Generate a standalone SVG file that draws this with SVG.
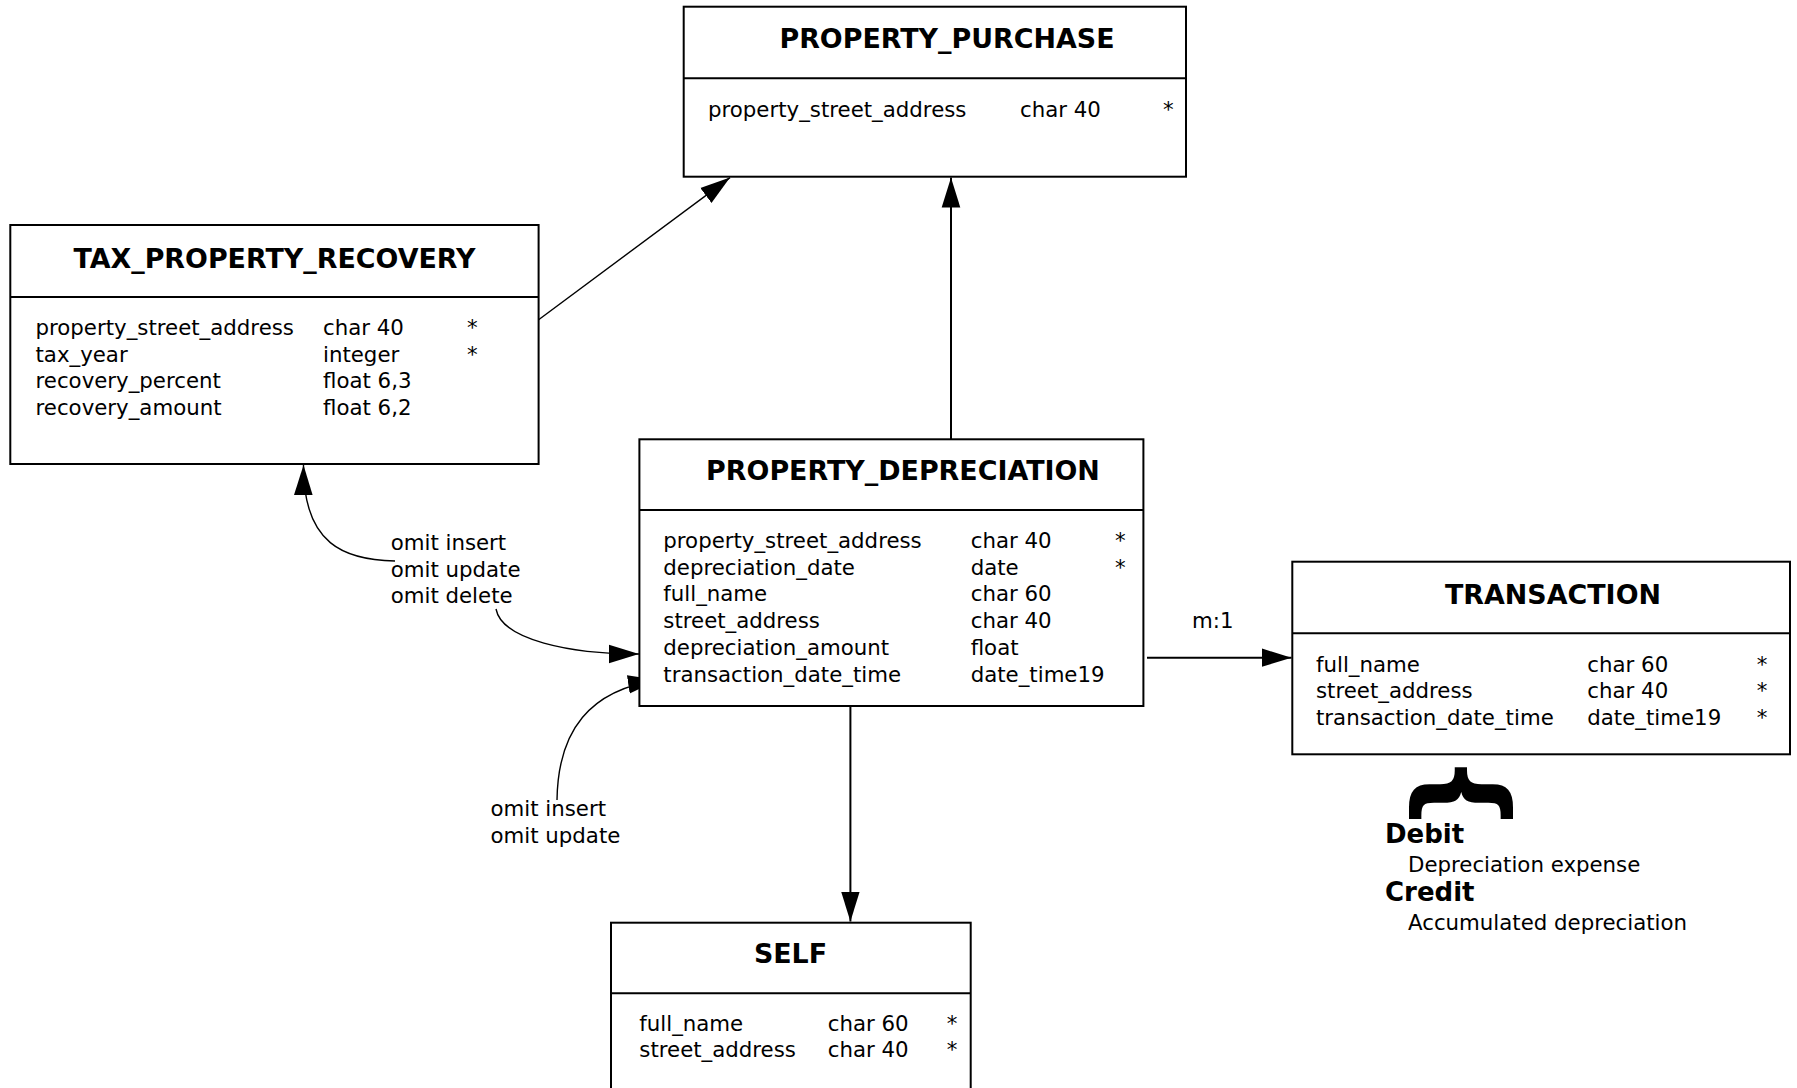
<svg xmlns="http://www.w3.org/2000/svg" width="1797" height="1088" viewBox="0 0 1797 1088">
<defs>
<style>
.box{fill:#fff;stroke:#000;stroke-width:2}
.div{stroke:#000;stroke-width:2}
.title{font-family:"DejaVu Sans",sans-serif;font-weight:bold;font-size:26.9px;text-anchor:middle;fill:#000}
.t{font-family:"DejaVu Sans",sans-serif;font-size:21.3px;fill:#000}
.b{font-family:"DejaVu Sans",sans-serif;font-weight:bold;font-size:26px;fill:#000}
.conn{fill:none;stroke:#000;stroke-width:2}
.thin{fill:none;stroke:#000;stroke-width:1.4}
</style>
<marker id="arr" markerUnits="userSpaceOnUse" markerWidth="30" markerHeight="20" viewBox="0 0 29 18" refX="29" refY="9" orient="auto">
<path d="M0,0 L29,9 L0,18 z" fill="#000"/>
</marker>
</defs>
<rect width="1797" height="1088" fill="#fff"/>

<g id="connectors">
<path class="thin" d="M538.6,319.7 L730,177.6" marker-end="url(#arr)"/>
<path class="conn" d="M951,439 L951,177.6" marker-end="url(#arr)"/>
<path class="conn" d="M1147,657.7 L1291.5,657.7" marker-end="url(#arr)"/>
<path class="conn" d="M850.4,706 L850.4,921.5" marker-end="url(#arr)"/>
<path class="thin" d="M395,561 C345,560 303,545 303.5,465" marker-end="url(#arr)"/>
<path class="thin" d="M496,609 C502,640 570,654 639,654" marker-end="url(#arr)"/>
<path class="thin" d="M557,800 C558,730 590,690 658,680" marker-end="url(#arr)"/>
<text class="t" x="1192" y="627.5">m:1</text>
<text class="t" x="390.7" y="550">omit insert</text>
<text class="t" x="390.7" y="576.5">omit update</text>
<text class="t" x="390.7" y="603">omit delete</text>
<text class="t" x="490.5" y="816">omit insert</text>
<text class="t" x="490.5" y="842.5">omit update</text>
</g>

<g id="PROPERTY_PURCHASE">
<rect class="box" x="683.7" y="6.7" width="502.3" height="170"/>
<line class="div" x1="683.7" y1="78.3" x2="1186" y2="78.3"/>
<text class="title" x="947" y="48">PROPERTY_PURCHASE</text>
<text class="t" x="708" y="117">property_street_address</text>
<text class="t" x="1020" y="117">char 40</text>
<text class="t" x="1163" y="117">*</text>
</g>

<g id="TAX_PROPERTY_RECOVERY">
<rect class="box" x="10.3" y="225" width="528.3" height="239"/>
<line class="div" x1="10.3" y1="297" x2="538.6" y2="297"/>
<text class="title" x="274.5" y="267.5">TAX_PROPERTY_RECOVERY</text>
<text class="t" x="35.5" y="335">property_street_address</text>
<text class="t" x="323" y="335">char 40</text>
<text class="t" x="467" y="335">*</text>
<text class="t" x="35.5" y="361.7">tax_year</text>
<text class="t" x="323" y="361.7">integer</text>
<text class="t" x="467" y="361.7">*</text>
<text class="t" x="35.5" y="388.4">recovery_percent</text>
<text class="t" x="323" y="388.4">float 6,3</text>
<text class="t" x="35.5" y="415">recovery_amount</text>
<text class="t" x="323" y="415">float 6,2</text>
</g>

<g id="PROPERTY_DEPRECIATION">
<rect class="box" x="639.4" y="439.3" width="504" height="266.7"/>
<line class="div" x1="639.4" y1="510" x2="1143.4" y2="510"/>
<text class="title" x="903" y="479.5">PROPERTY_DEPRECIATION</text>
<text class="t" x="663.3" y="548">property_street_address</text>
<text class="t" x="970.7" y="548">char 40</text>
<text class="t" x="1115" y="548">*</text>
<text class="t" x="663.3" y="574.7">depreciation_date</text>
<text class="t" x="970.7" y="574.7">date</text>
<text class="t" x="1115" y="574.7">*</text>
<text class="t" x="663.3" y="601.4">full_name</text>
<text class="t" x="970.7" y="601.4">char 60</text>
<text class="t" x="663.3" y="628.1">street_address</text>
<text class="t" x="970.7" y="628.1">char 40</text>
<text class="t" x="663.3" y="654.8">depreciation_amount</text>
<text class="t" x="970.7" y="654.8">float</text>
<text class="t" x="663.3" y="681.5">transaction_date_time</text>
<text class="t" x="970.7" y="681.5">date_time19</text>
</g>

<g id="TRANSACTION">
<rect class="box" x="1292.3" y="561.7" width="497.7" height="192.6"/>
<line class="div" x1="1292.3" y1="633.3" x2="1790" y2="633.3"/>
<text class="title" x="1553" y="604">TRANSACTION</text>
<text class="t" x="1316" y="671.7">full_name</text>
<text class="t" x="1587.3" y="671.7">char 60</text>
<text class="t" x="1756.7" y="671.7">*</text>
<text class="t" x="1316" y="698.3">street_address</text>
<text class="t" x="1587.3" y="698.3">char 40</text>
<text class="t" x="1756.7" y="698.3">*</text>
<text class="t" x="1316" y="725">transaction_date_time</text>
<text class="t" x="1587.3" y="725">date_time19</text>
<text class="t" x="1756.7" y="725">*</text>
</g>

<g id="SELF">
<rect class="box" x="611" y="922.7" width="359.7" height="200"/>
<line class="div" x1="611" y1="993.3" x2="970.7" y2="993.3"/>
<text class="title" x="790.5" y="963">SELF</text>
<text class="t" x="639.3" y="1030.7">full_name</text>
<text class="t" x="827.7" y="1030.7">char 60</text>
<text class="t" x="946.7" y="1030.7">*</text>
<text class="t" x="639.3" y="1057.3">street_address</text>
<text class="t" x="827.7" y="1057.3">char 40</text>
<text class="t" x="946.7" y="1057.3">*</text>
</g>

<g id="journal_note">
<text transform="translate(1467,793) rotate(90)" x="0" y="0" text-anchor="middle" dominant-baseline="central" style="font-family:'DejaVu Sans',sans-serif;font-weight:bold;font-size:112px">{</text>
<text class="b" x="1385" y="842.5">Debit</text>
<text class="t" x="1408" y="871.5">Depreciation expense</text>
<text class="b" x="1385" y="901">Credit</text>
<text class="t" x="1408" y="930">Accumulated depreciation</text>
</g>
</svg>
